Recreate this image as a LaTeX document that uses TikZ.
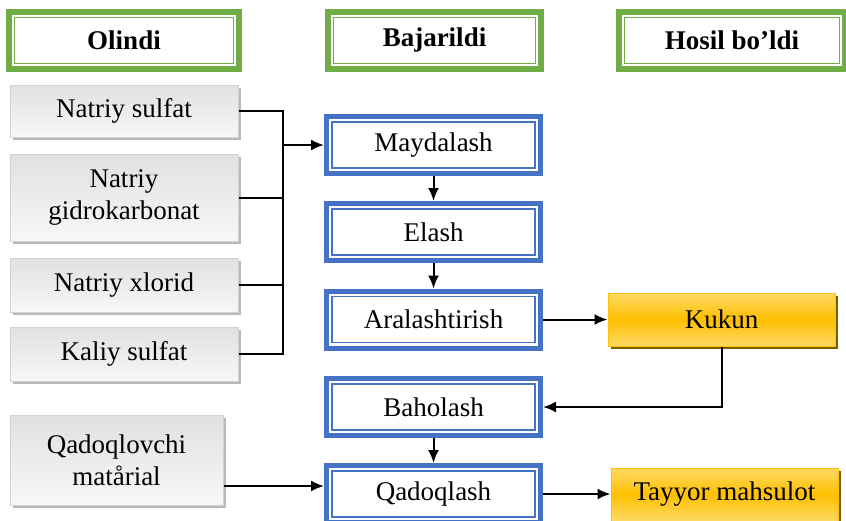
\documentclass[tikz,border=0pt]{standalone}
\usepackage{fontspec}
\setmainfont{Liberation Serif}
\usepackage{tikz}
\definecolor{colorHead}{HTML}{70AD47}
\definecolor{colorStep}{HTML}{4472C4}
\definecolor{colorGoldA}{HTML}{FFD966}
\definecolor{colorGoldB}{HTML}{FFC000}
\definecolor{colorGoldS}{HTML}{7F6000}
\colorlet{colorRawA}{gray!24}
\colorlet{colorRawB}{gray!6}
\usetikzlibrary{arrows.meta}
\usetikzlibrary{shadows}
\newcommand{\diagfont}{\fontsize{27}{32}\selectfont}
\tikzset{
   dblbox/.style={draw=#1,inner sep=0pt,fill=white,align=center,font=\diagfont,
      path picture={\draw[#1,line width=1.2pt]
         ([shift={(5.5pt,-5.5pt)}]path picture bounding box.north west) rectangle
         ([shift={(-5.5pt,5.5pt)}]path picture bounding box.south east);}},
   head/.style={dblbox=colorHead,line width=6pt,font=\diagfont\bfseries,minimum height=57pt},
   stepbox/.style={dblbox=colorStep,line width=5pt,minimum width=214pt,minimum height=57pt},
   raw/.style={draw=gray!35,line width=1pt,top color=colorRawA,bottom color=colorRawB,
      inner sep=0pt,align=center,font=\diagfont,
      drop shadow={shadow xshift=3pt,shadow yshift=-3pt,fill=gray!55,opacity=1}},
   prod/.style={draw=colorGoldB,line width=1pt,top color=colorGoldA,bottom color=colorGoldA,
      middle color=colorGoldB,inner sep=0pt,font=\diagfont,minimum width=227pt,minimum height=53pt,
      drop shadow={shadow xshift=3pt,shadow yshift=-3pt,fill=colorGoldS,opacity=1}},
   link/.style={-,line width=2pt},
   flow/.style={-{Latex[length=13pt,width=11pt]},line width=2pt},
}
\begin{document}
\begin{tikzpicture}[x=1pt,y=-1pt]
   \useasboundingbox (0,0) rectangle (846,520);

   % column titles
   \node[head,minimum width=230pt] (olindi) at (124,40.5) {Olindi};
   \node[head,minimum width=213pt] (bajar)  at (434.5,40.5) {Bajarildi};
   \node[head,minimum width=226pt] (hosil)  at (732,40.5) {Hosil bo’ldi};

   % raw materials
   \node[raw,minimum width=228pt,minimum height=52pt] (ns) at (124,111) {Natriy sulfat};
   \node[raw,minimum width=228pt,minimum height=87pt] (ng) at (124,197.5) {Natriy\\gidrokarbonat};
   \node[raw,minimum width=228pt,minimum height=54pt] (nx) at (124,285) {Natriy xlorid};
   \node[raw,minimum width=228pt,minimum height=54pt] (ks) at (124,354) {Kaliy sulfat};
   \node[raw,minimum width=213pt,minimum height=90pt] (mat) at (116.5,460) {Qadoqlovchi\\matårial};

   % process steps
   \node[stepbox] (may) at (433.5,145)   {Maydalash};
   \node[stepbox] (ela) at (433.5,232)   {Elash};
   \node[stepbox] (ara) at (433.5,319.5) {Aralashtirish};
   \node[stepbox] (bah) at (433.5,407)   {Baholash};
   \node[stepbox] (qad) at (433.5,494)   {Qadoqlash};

   % products
   \node[prod] (kuk) at (721.5,319.5) {Kukun};
   \node[prod] (tay) at (724.5,494.5) {Tayyor mahsulot};

   \coordinate (bus) at (283,145);
   \draw[link] (ns.east) -| (bus);
   \draw[link] (ks.east) -| (bus);
   \draw[link] (ng.east) -- (ng.east -| bus);
   \draw[link] (nx.east) -- (nx.east -| bus);
   \draw[flow] (bus) -- (may.west);

   \draw[flow] (may) -- (ela);
   \draw[flow] (ela) -- (ara);
   \draw[flow] (ara) -- (kuk);
   \draw[flow] (kuk.south) |- (bah.east);
   \draw[flow] (bah) -- (qad);
   \draw[flow] ([yshift=-26pt]mat.east) coordinate (m1) -- (m1 -| qad.west);
   \draw[flow] (qad.east) -- (qad.east -| tay.west);

\end{tikzpicture}
\end{document}
